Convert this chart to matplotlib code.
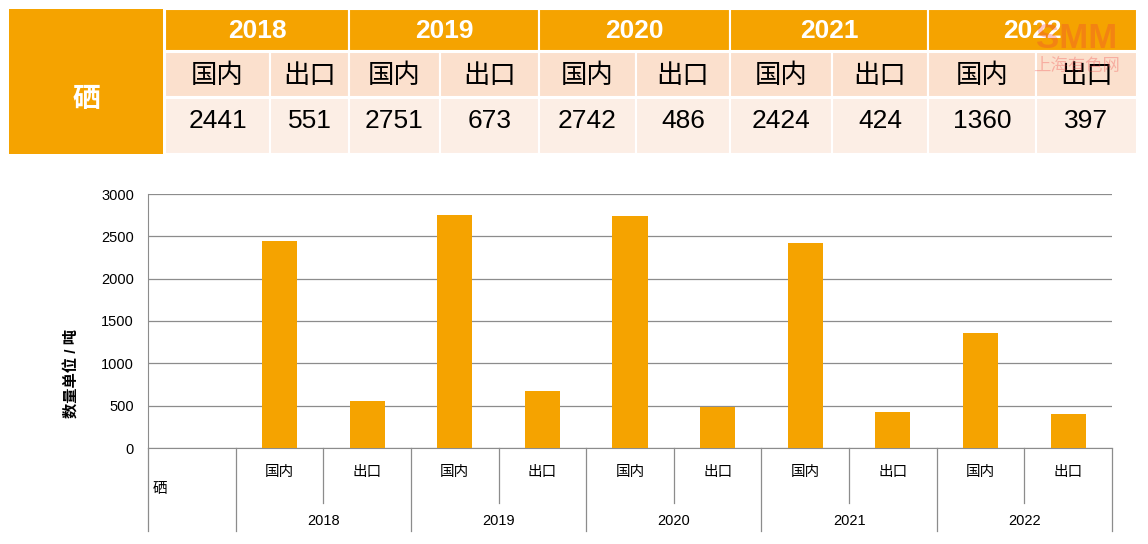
import matplotlib.pyplot as plt
from matplotlib.patches import Rectangle

plt.rcParams['font.family'] = ['Liberation Sans', 'Noto Sans CJK SC', 'DejaVu Sans']

element = "硒"
years = ["2018", "2019", "2020", "2021", "2022"]
kinds = ["国内", "出口"]
domestic = [2441, 2751, 2742, 2424, 1360]
export = [551, 673, 486, 424, 397]

orange = "#F5A300"
peach = "#FBE0CD"
light = "#FCEEE5"
grey = "#8C8C8C"

W, H = 1148, 544
fig = plt.figure(figsize=(W / 100, H / 100), dpi=100)

# ---- table on top (pixel coordinates overlay) ----
tab = fig.add_axes([0, 0, 1, 1])
tab.set_xlim(0, W)
tab.set_ylim(H, 0)
tab.axis("off")

col_edges = [165, 349, 539, 730, 928, 1137]
sub_split = [270, 440, 636, 832, 1036]
rows = [(9, 51), (52, 97), (98, 154)]

tab.add_patch(Rectangle((9, 9), 154, 145, fc=orange, ec="none"))
tab.text(86, 100, element, color="white", fontsize=20, fontweight="bold",
         ha="center", va="center")

for i, yr in enumerate(years):
    x0, x1, xs = col_edges[i], col_edges[i + 1], sub_split[i]
    tab.add_patch(Rectangle((x0, rows[0][0]), x1 - x0, rows[0][1] - rows[0][0],
                            fc=orange, ec="white", lw=1.5))
    tab.text((x0 + x1) / 2, 31, yr, color="white", fontsize=19, fontweight="bold",
             ha="center", va="center")
    vals = [domestic[i], export[i]]
    for j, (a, b) in enumerate([(x0, xs), (xs, x1)]):
        tab.add_patch(Rectangle((a, rows[1][0]), b - a, rows[1][1] - rows[1][0],
                                fc=peach, ec="white", lw=1.5))
        tab.add_patch(Rectangle((a, rows[2][0]), b - a, rows[2][1] - rows[2][0],
                                fc=light, ec="white", lw=1.5))
        tab.text((a + b) / 2, 76, kinds[j], fontsize=19, ha="center", va="center")
        tab.text((a + b) / 2, 121, str(vals[j]), fontsize=19, ha="center", va="center")

# watermark
tab.text(1077, 38, "SMM", color="#F03C3C", alpha=0.3, fontsize=25, fontweight="bold",
         ha="center", va="center", zorder=10)
tab.text(1077, 66, "上海有色网", color="#F03C3C", alpha=0.3, fontsize=12.5,
         ha="center", va="center", zorder=10)

# ---- bar chart ----
left, right, top, bottom = 148, 1112, 194, 448
ax = fig.add_axes([left / W, 1 - bottom / H, (right - left) / W, (bottom - top) / H])

labels = [element]
values = [0]
for i in range(len(years)):
    labels += kinds
    values += [domestic[i], export[i]]
pos = list(range(len(labels)))

ax.bar(pos[1:], values[1:], width=0.4, color=orange, zorder=3)
ax.set_xlim(-0.5, len(labels) - 0.5)
ax.set_ylim(0, 3000)
ax.set_yticks(range(0, 3001, 500))
ax.yaxis.grid(True, color=grey, lw=0.9)
ax.set_axisbelow(True)
for s in ["top", "right"]:
    ax.spines[s].set_visible(False)
ax.spines["left"].set_color(grey)
ax.spines["bottom"].set_color(grey)
ax.tick_params(axis="y", length=0, labelsize=10.5, pad=10)
ax.tick_params(axis="x", length=0, labelbottom=False)

tr = ax.get_xaxis_transform()
lvl1 = (bottom - 472) / (bottom - top)
lvl2 = (bottom - 521) / (bottom - top)
sub_end = (bottom - 503) / (bottom - top)
yr_end = (bottom - 531) / (bottom - top)

ax.text(-0.45, (bottom - 489) / (bottom - top), element, transform=tr,
        fontsize=10.5, ha="left", va="center")
for p in pos[1:]:
    ax.text(p, lvl1, labels[p], transform=tr, fontsize=10.5, ha="center", va="center")
for i, yr in enumerate(years):
    ax.text(1.5 + 2 * i, lvl2, yr, transform=tr, fontsize=10.5, ha="center", va="center")

for xb in [-0.5] + [0.5 + 2 * i for i in range(len(years) + 1)]:
    ax.plot([xb, xb], [0, yr_end], transform=tr, color=grey, lw=0.9, clip_on=False)
for i in range(len(years)):
    xb = 1.5 + 2 * i
    ax.plot([xb, xb], [0, sub_end], transform=tr, color=grey, lw=0.9, clip_on=False)

fig.text(72 / W, 1 - 373 / H, "数量单位 / 吨", rotation=90, fontsize=11,
         fontweight="bold", ha="center", va="center")

fig.savefig("out.png", dpi=100)
